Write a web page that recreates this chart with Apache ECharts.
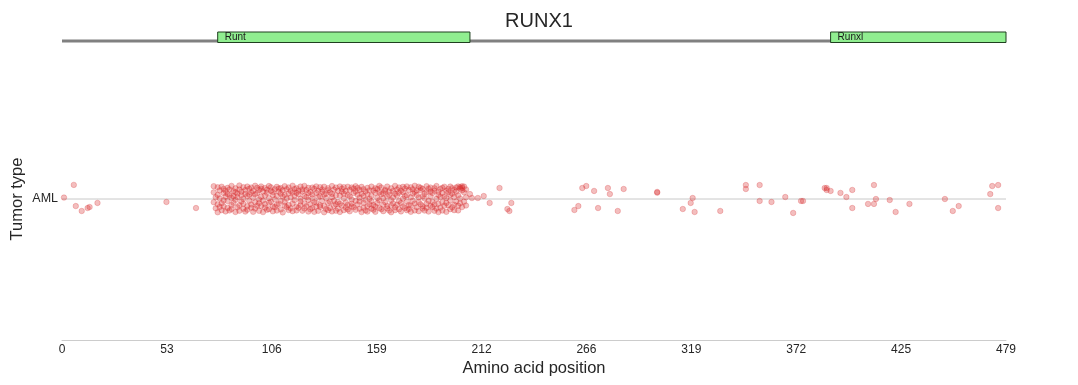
<!DOCTYPE html>
<html>
<head>
<meta charset="utf-8">
<script src="https://cdn.jsdelivr.net/npm/echarts@6/dist/echarts.min.js"></script>
<style>html,body{margin:0;padding:0;background:#fff;}#c{width:1078px;height:385px;}</style>
</head>
<body>
<div id="c"></div>
<script>
// ---- data ----
const geneName = 'RUNX1';
const proteinLength = 479;
const tumorTypes = ['AML'];
const tickLabels = ['0','53','106','159','212','266','319','372','425','479'];
const domains = [
  { name: 'Runt', start: 79, end: 207 },
  { name: 'Runxl', start: 390, end: 479 }
];
// isolated mutations: [position, jitter]
const sparseMutations = [
  [1,0.01],[6,0.10],[7,-0.05],[10,-0.085],[13,-0.064],[14,-0.057],[18,-0.028],[53,-0.021],[68,-0.064],
  [207,0.035],[208,0.007],[211,0.007],[214,0.021],[217,-0.028],[222,0.078],[226,-0.071],[227,-0.085],[228,-0.028],
  [260,-0.078],[262,-0.05],[264,0.078],[266,0.092],[270,0.057],[272,-0.064],[277,0.078],[278,0.035],[282,-0.085],
  [285,0.071],[302,0.05],[302,0.045],[315,-0.071],[319,-0.028],[320,0.007],[321,-0.092],[334,-0.085],
  [347,0.099],[347,0.071],[354,0.099],[354,-0.014],[360,-0.021],[367,0.014],[371,-0.099],[375,-0.014],[376,-0.014],
  [387,0.078],[388,0.064],[388,0.078],[390,0.057],[395,0.043],[398,0.014],[401,-0.064],[401,0.064],
  [409,-0.035],[412,0.099],[412,-0.035],[413,0],[420,-0.007],[423,-0.092],[430,-0.035],[448,0],
  [452,-0.085],[455,-0.05],[471,0.035],[472,0.092],[475,0.099],[475,-0.064]
];
// dense Runt-domain mutations: [position, [jitters...]]
const runtMutations = [
  [77,[0.047,-0.023,0.091]],[78,[-0.066,0.012]],[79,[0.083,-0.038,-0.094,0.029]],[80,[0.004,0.061,-0.057]],
  [81,[-0.031,0.087,-0.079]],[82,[0.042,-0.009,0.071,-0.052]],[83,[-0.088,0.017,0.058]],[84,[0.079,-0.063,-0.014,0.036]],
  [85,[0.026,-0.081,0.068]],[86,[-0.043,0.093,0.008,-0.071]],[87,[0.055,-0.027,0.019]],[88,[-0.092,0.048,0.076,-0.006]],
  [89,[0.013,-0.059,0.039]],[90,[0.067,-0.044,-0.083,0.096]],[91,[-0.018,0.052,0.027]],[92,[0.084,-0.069,-0.034,0.002]],
  [93,[0.037,-0.089,0.063]],[94,[-0.051,0.021,0.088,-0.076]],[95,[0.072,-0.013,0.031]],[96,[-0.062,0.081,-0.039,0.046]],
  [97,[0.009,-0.091,0.057]],[98,[0.094,-0.024,-0.068,0.033]],[99,[-0.047,0.041,0.079]],[100,[-0.003,-0.084,0.064,-0.029]],
  [101,[0.073,-0.049,0.016,0.089]],[102,[-0.011,0.053,-0.093]],[103,[0.078,-0.036,0.024,-0.061]],[104,[0.044,-0.077,0.066]],
  [105,[-0.026,0.092,0.006,-0.072]],[106,[0.059,-0.019,0.083]],[107,[-0.087,0.028,-0.054,0.049]],[108,[0.069,-0.002,-0.058]],
  [109,[-0.041,0.086,0.022,-0.082]],[110,[0.051,-0.033,0.074]],[111,[-0.074,0.038,-0.012,0.078]],[112,[0.018,-0.095,0.062]],
  [113,[0.091,-0.048,0.028,-0.021]],[114,[-0.059,0.069,0.003]],[115,[0.039,-0.078,0.082,-0.042]],[116,[0.011,0.057,-0.066]],
  [117,[-0.032,0.094,-0.086,0.047]],[118,[0.071,-0.008,0.023]],[119,[-0.053,0.043,0.077,-0.081]],[120,[0.034,-0.062,0.059]],
  [121,[0.088,-0.017,-0.044,0.001]],[122,[-0.083,0.054,0.068]],[123,[0.021,-0.067,0.093,-0.031]],[124,[0.063,-0.052,0.014]],
  [125,[-0.089,0.079,0.041,-0.007]],[126,[0.049,-0.037,-0.073]],[127,[0.081,0.005,-0.063,0.032]],[128,[-0.022,0.072,-0.091]],
  [129,[0.043,-0.054,0.089,-0.026]],[130,[0.014,0.058,-0.084]],[131,[-0.057,0.084,0.019,-0.045]],[132,[0.068,-0.014,0.051]],
  [133,[-0.094,0.031,-0.049,0.087]],[134,[0.038,-0.071,0.006]],[135,[0.077,-0.029,0.062,-0.079]],[136,[-0.019,0.047,-0.064]],
  [137,[0.092,-0.088,0.013,0.036]],[138,[-0.048,0.067,-0.011]],[139,[0.027,-0.083,0.081,-0.037]],[140,[0.058,-0.021,-0.069]],
  [141,[-0.034,0.089,0.024,-0.092]],[142,[0.052,-0.046,0.073]],[143,[0.003,-0.079,0.039,0.084]],[144,[-0.061,0.056,-0.024]],
  [145,[0.087,-0.042,0.029,-0.074]],[146,[0.019,-0.087,0.064]],[147,[-0.052,0.082,-0.004,-0.033]],[148,[0.074,-0.058,0.042]],
  [149,[-0.013,0.091,-0.077,0.053]],[150,[0.031,-0.039,0.078]],[151,[-0.069,0.063,-0.018,0.009]],[152,[0.086,-0.093,0.038]],
  [153,[-0.027,0.069,-0.061,0.021]],[154,[0.054,-0.006,-0.081]],[155,[0.079,-0.051,0.033,-0.089]],[156,[-0.038,0.061,0.002]],
  [157,[0.023,-0.068,0.088,-0.016]],[158,[0.061,-0.043,-0.076]],[159,[-0.091,0.077,0.044,-0.053]],[160,[0.008,-0.028,0.071]],
  [161,[0.093,-0.064,-0.009,0.048]],[162,[-0.072,0.034,0.082]],[163,[0.041,-0.086,-0.041,0.004]],[164,[0.066,-0.023,0.057]],
  [165,[-0.049,0.088,-0.067,0.018]],[166,[0.029,-0.082,0.053]],[167,[-0.008,0.076,-0.047,-0.094]],[168,[0.057,-0.031,0.012]],
  [169,[-0.079,0.037,0.093,-0.059]],[170,[0.024,-0.041,0.068]],[171,[0.082,-0.073,-0.014,0.044]],[172,[-0.029,0.059,-0.088]],
  [173,[0.048,-0.053,0.086,0.003]],[174,[-0.063,0.022,0.074]],[175,[0.089,-0.079,-0.019,0.027]],[176,[-0.043,0.064,-0.071]],
  [177,[0.012,0.083,-0.048,-0.091]],[178,[0.069,-0.012,0.039]],[179,[-0.081,0.049,-0.032,0.094]],[180,[0.028,-0.058,0.061]],
  [181,[-0.021,0.087,-0.086,0.011]],[182,[0.062,-0.038,0.079]],[183,[-0.068,0.019,-0.052,0.072]],[184,[0.037,-0.082,0.004]],
  [185,[0.091,-0.034,0.049,-0.062]],[186,[-0.012,0.073,-0.089]],[187,[0.053,-0.048,0.018,0.081]],[188,[-0.058,0.042,-0.022]],
  [189,[0.076,-0.084,0.058,-0.039]],[190,[0.001,0.092,-0.068]],[191,[-0.033,0.051,0.029,-0.093]],[192,[0.071,-0.061,0.014]],
  [193,[-0.082,0.079,-0.023,0.043]],[194,[0.017,-0.047,0.087]],[195,[0.058,-0.091,-0.028,0.006]],[196,[-0.044,0.071,0.048]],
  [197,[0.088,-0.072,-0.009,0.031]],[198,[-0.059,0.038,0.077]],[199,[0.014,-0.079,0.063,-0.041]],[200,[0.082,-0.018,0.052]],
  [201,[-0.048,0.089,0.026,-0.081]],[202,[0.084,0.073,-0.031,0.004]],[203,[0.079,0.062,-0.057,0.091]],
  [204,[0.088,0.047,-0.019]],[205,[0.068,-0.046,0.012]]
];

// ---- build ----
const points = sparseMutations.slice();
runtMutations.forEach(([p, js]) => js.forEach(j => points.push([p, j])));
const tickValues = tickLabels.map((_, i) => proteinLength * i / (tickLabels.length - 1));

const FONT = 'Liberation Sans, Arial, sans-serif';
const chart = echarts.init(document.getElementById('c'), null, { renderer: 'canvas' });
chart.setOption({
  backgroundColor: '#fff',
  animation: false,
  title: { text: geneName, left: 534, textAlign: 'center', top: 6, textStyle: { fontFamily: FONT, fontSize: 20, fontWeight: 'normal', color: '#262626' } },
  grid: [
    { left: 62, right: 72, top: 58, bottom: 45, containLabel: false, outerBoundsMode: 'none' },
    { left: 62, right: 72, top: 32, height: 10.5, containLabel: false, outerBoundsMode: 'none' }
  ],
  xAxis: [
    {
      gridIndex: 0, type: 'value', min: 0, max: proteinLength,
      name: 'Amino acid position', nameLocation: 'middle', nameGap: 20, nameMoveOverlap: false,
      nameTextStyle: { fontFamily: FONT, fontSize: 16.5, color: '#262626' },
      axisLine: { show: true, onZero: false, lineStyle: { color: '#cccccc', width: 1 } },
      axisTick: { show: false, customValues: tickValues },
      splitLine: { show: false },
      axisLabel: {
        customValues: tickValues, margin: 4, fontFamily: FONT, fontSize: 12, color: '#262626',
        formatter: (v) => { const i = tickValues.findIndex(t => Math.abs(t - v) < 1e-6); return i >= 0 ? tickLabels[i] : ''; }
      }
    },
    { gridIndex: 1, type: 'value', min: 0, max: proteinLength, show: false }
  ],
  yAxis: [
    {
      gridIndex: 0, type: 'value', min: -1, max: 1,
      name: 'Tumor type', nameLocation: 'middle', nameGap: 36, nameRotate: 90, nameMoveOverlap: false,
      nameTextStyle: { fontFamily: FONT, fontSize: 16.5, color: '#262626' },
      axisLine: { show: false }, axisTick: { show: false }, splitLine: { show: false },
      axisLabel: { customValues: [0], margin: 4, fontFamily: FONT, fontSize: 12.5, color: '#262626',
        formatter: (v) => Math.abs(v) < 1e-9 ? tumorTypes[0] : '' }
    },
    { gridIndex: 1, type: 'value', min: 0, max: 1, show: false }
  ],
  series: [
    {
      type: 'line', xAxisIndex: 0, yAxisIndex: 0, data: [[0, 0], [proteinLength, 0]],
      symbol: 'none', silent: true, z: 1, lineStyle: { color: '#c8c8c8', width: 1 }
    },
    {
      type: 'scatter', xAxisIndex: 0, yAxisIndex: 0, data: points, symbolSize: 5.5, z: 2,
      itemStyle: { color: '#d62728', borderColor: '#d62728', borderWidth: 0.8, opacity: 0.3 }
    },
    {
      type: 'line', xAxisIndex: 1, yAxisIndex: 1, data: [[0, 0.14], [proteinLength, 0.14]],
      symbol: 'none', silent: true, z: 1, lineStyle: { color: '#808080', width: 3 }
    },
    {
      type: 'custom', xAxisIndex: 1, yAxisIndex: 1, z: 3,
      data: domains.map(d => [d.start, d.end, d.name]),
      renderItem: (params, api) => {
        const p1 = api.coord([api.value(0), 1]);
        const p2 = api.coord([api.value(1), 0]);
        return {
          type: 'group',
          children: [
            { type: 'rect', shape: { x: p1[0], y: p1[1], width: p2[0] - p1[0], height: p2[1] - p1[1] },
              style: { fill: '#90ee90', stroke: '#1f3f1f', lineWidth: 1 } },
            { type: 'text', style: { text: domains[params.dataIndex].name, x: p1[0] + 7, y: (p1[1] + p2[1]) / 2,
              verticalAlign: 'middle', fontFamily: FONT, fontSize: 10, fill: '#1a1a1a' } }
          ]
        };
      }
    }
  ]
});
</script>
</body>
</html>
